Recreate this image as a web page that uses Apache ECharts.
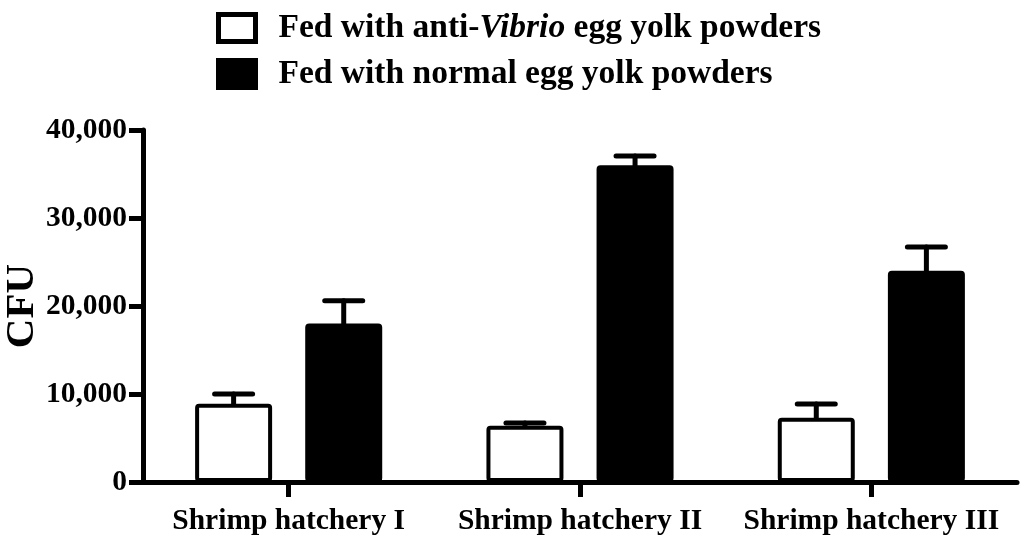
<!DOCTYPE html>
<html>
<head>
<meta charset="utf-8">
<script src="https://cdn.jsdelivr.net/npm/echarts@6/dist/echarts.min.js"></script>
<style>
  html, body { margin: 0; padding: 0; background: #fff; }
  #main { width: 1024px; height: 539px; }
</style>
</head>
<body>
<div id="main"></div>
<script>
var categories = ['Shrimp hatchery I', 'Shrimp hatchery II', 'Shrimp hatchery III'];
var seriesNames = ['Fed with anti-Vibrio egg yolk powders', 'Fed with normal egg yolk powders'];
var antiVibrio = [8900, 6400, 7300];
var antiVibrioErr = [1100, 300, 1550];
var normalPowder = [18000, 36000, 24000];
var normalPowderErr = [2600, 1050, 2700];
var yTicks = [0, 10000, 20000, 30000, 40000];

var FONT = '"Liberation Serif", "Times New Roman", serif';
var BAR_W = 77;
var BAR_GAP = 0.43;

var mychart = echarts.init(document.getElementById('main'));

// error bar drawn above each bar, shifted to the bar's centre
function errorBar(offset) {
    return function (params, api) {
        var idx = api.value(0);
        var base = api.coord([idx, api.value(1)]);
        var top = api.coord([idx, api.value(2)]);
        var x = base[0] + offset;
        var style = { stroke: '#000', lineWidth: 5, lineCap: 'round' };
        return {
            type: 'group',
            children: [
                { type: 'line', shape: { x1: x, y1: base[1], x2: x, y2: top[1] }, style: style },
                { type: 'line', shape: { x1: x - 19, y1: top[1], x2: x + 19, y2: top[1] }, style: style }
            ]
        };
    };
}

function errData(means, errs) {
    return means.map(function (m, i) { return [i, m, m + errs[i]]; });
}

var off = (BAR_W + BAR_W * BAR_GAP) / 2;

option = {
    animation: false,
    grid: { left: 143, right: 7, top: 130, bottom: 57, containLabel: false, outerBoundsMode: 'none' },
    legend: {
        orient: 'vertical',
        left: 216,
        top: 11,
        padding: 0,
        itemWidth: 37,
        itemHeight: 27,
        itemGap: 12,
        icon: 'rect',
        data: [
            { name: seriesNames[0], itemStyle: { color: '#fff', borderColor: '#000', borderWidth: 5 } },
            { name: seriesNames[1], itemStyle: { color: '#000', borderColor: '#000', borderWidth: 5 } }
        ],
        formatter: function (name) {
            if (name === seriesNames[0]) {
                return '{b|Fed with anti-}{i|Vibrio}{b| egg yolk powders}';
            }
            return '{b|' + name + '}';
        },
        textStyle: {
            padding: [0, 0, 0, 18],
            rich: {
                b: { fontFamily: FONT, fontWeight: 'bold', fontSize: 33.5, color: '#000' },
                i: { fontFamily: FONT, fontStyle: 'italic', fontWeight: 'bold', fontSize: 33.5, color: '#000' }
            }
        }
    },
    xAxis: {
        type: 'category',
        data: categories,
        axisLine: { lineStyle: { color: '#000', width: 5 } },
        axisTick: { show: true, alignWithLabel: true, length: 15, lineStyle: { color: '#000', width: 5 } },
        axisLabel: {
            interval: 0,
            color: '#000',
            fontFamily: FONT,
            fontWeight: 'bold',
            fontSize: 29.5,
            margin: 24
        }
    },
    yAxis: {
        type: 'value',
        min: 0,
        max: 40000,
        interval: 10000,
        name: 'CFU',
        nameLocation: 'middle',
        nameGap: 100,
        nameMoveOverlap: false,
        nameTextStyle: { color: '#000', fontFamily: FONT, fontWeight: 'bold', fontSize: 41 },
        splitLine: { show: false },
        axisLine: { show: true, lineStyle: { color: '#000', width: 5 } },
        axisTick: { show: true, length: 14, lineStyle: { color: '#000', width: 5 } },
        axisLabel: {
            color: '#000',
            fontFamily: FONT,
            fontWeight: 'bold',
            fontSize: 29.5,
            margin: 16,
            formatter: function (v) {
                return yTicks.indexOf(v) >= 0 ? String(v).replace(/\B(?=(\d{3})+(?!\d))/g, ',') : '';
            }
        }
    },
    series: [
        {
            name: seriesNames[0],
            type: 'bar',
            barWidth: BAR_W,
            barGap: (BAR_GAP * 100) + '%',
            data: antiVibrio,
            itemStyle: { color: '#fff', borderColor: '#000', borderWidth: 4, borderRadius: 2 }
        },
        {
            name: seriesNames[1],
            type: 'bar',
            barWidth: BAR_W,
            data: normalPowder,
            itemStyle: { color: '#000', borderColor: '#000', borderWidth: 4, borderRadius: 2 }
        },
        {
            type: 'custom',
            renderItem: errorBar(-off),
            data: errData(antiVibrio, antiVibrioErr),
            z: 3
        },
        {
            type: 'custom',
            renderItem: errorBar(off),
            data: errData(normalPowder, normalPowderErr),
            z: 3
        }
    ]
};
mychart.setOption(option);
</script>
</body>
</html>
